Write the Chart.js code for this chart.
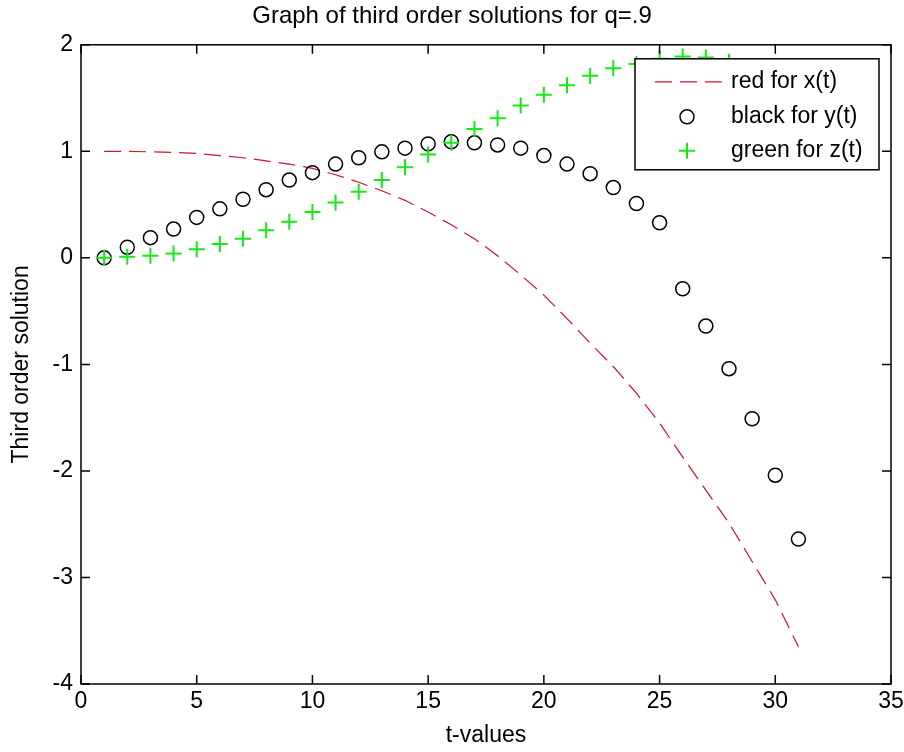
<!DOCTYPE html>
<html>
<head>
<meta charset="utf-8">
<title>Graph of third order solutions for q=.9</title>
<script src="https://cdn.jsdelivr.net/npm/chart.js@4.4.1/dist/chart.umd.min.js"></script>
<style>
  html, body { margin: 0; padding: 0; background: #fff; }
  #wrap { width: 904px; height: 752px; }
</style>
</head>
<body>
<div id="wrap"><canvas id="solChart" width="904" height="752"></canvas></div>
<script>
// values
var tVals = [1, 2, 3, 4, 5, 6, 7, 8, 9, 10, 11, 12, 13, 14, 15, 16,
             17, 18, 19, 20, 21, 22, 23, 24, 25, 26, 27, 28, 29, 30, 31];
var xSol = [1.0, 1.0, 0.995, 0.99, 0.98, 0.96, 0.94, 0.91, 0.88, 0.84, 0.78, 0.71, 0.63, 0.54, 0.43, 0.31,
            0.18, 0.02, -0.16, -0.35, -0.57, -0.80, -1.02, -1.27, -1.55, -1.87, -2.18, -2.49, -2.85, -3.21, -3.65];
var ySol = [0, 0.10, 0.19, 0.27, 0.38, 0.46, 0.55, 0.64, 0.73, 0.80, 0.88, 0.94, 0.995, 1.03, 1.07, 1.09,
            1.08, 1.06, 1.03, 0.96, 0.88, 0.79, 0.66, 0.51, 0.33, -0.29, -0.64, -1.04, -1.51, -2.04, -2.64];
var zSol = [0, 0.01, 0.02, 0.04, 0.08, 0.13, 0.18, 0.26, 0.34, 0.43, 0.52, 0.62, 0.73, 0.85, 0.97, 1.08,
            1.21, 1.31, 1.43, 1.53, 1.62, 1.71, 1.78, 1.82, 1.87, 1.89, 1.88, 1.84, 1.78, 1.70, 1.60];
var xTicks = [0, 5, 10, 15, 20, 25, 30, 35];
var yTicks = [-4, -3, -2, -1, 0, 1, 2];
var seriesLabels = ['red for x(t)', 'black for y(t)', 'green for z(t)'];

var FONT = '"Liberation Sans", Arial, Helvetica, sans-serif';
var RED = 'rgb(212, 18, 42)';
var GREEN = 'rgb(24, 232, 24)';

function toPoints(vals) {
    return tVals.map(function (t, i) { return { x: t, y: vals[i] }; });
}

// white page behind everything
var bgPlugin = {
    id: 'bg',
    beforeDraw: function (chart) {
        var c = chart.ctx;
        c.save();
        c.fillStyle = '#fff';
        c.fillRect(0, 0, chart.width, chart.height);
        c.restore();
    }
};

// matlab style box with inward ticks on all four sides
var boxPlugin = {
    id: 'box',
    afterDatasetsDraw: function (chart) {
        var c = chart.ctx, a = chart.chartArea;
        var sx = chart.scales.x, sy = chart.scales.y;
        var len = 9;
        c.save();
        c.strokeStyle = '#000';
        c.lineWidth = 1.5;
        c.strokeRect(a.left, a.top, a.right - a.left, a.bottom - a.top);
        c.beginPath();
        xTicks.forEach(function (v) {
            var px = sx.getPixelForValue(v);
            c.moveTo(px, a.bottom); c.lineTo(px, a.bottom - len);
            c.moveTo(px, a.top); c.lineTo(px, a.top + len);
        });
        yTicks.forEach(function (v) {
            var py = sy.getPixelForValue(v);
            c.moveTo(a.left, py); c.lineTo(a.left + len, py);
            c.moveTo(a.right, py); c.lineTo(a.right - len, py);
        });
        c.stroke();
        c.restore();
    }
};

// opaque legend box in the upper right, drawn last like matlab does
var legendBoxPlugin = {
    id: 'legendBox',
    afterDraw: function (chart) {
        var c = chart.ctx, a = chart.chartArea;
        var w = 244, h = 111;
        var left = a.right - 256, top = a.top + 14;
        var rows = [top + 23, top + 58, top + 92];
        var sampleX = left + 52;
        c.save();
        c.fillStyle = '#fff';
        c.fillRect(left, top, w, h);
        c.strokeStyle = '#000';
        c.lineWidth = 1.5;
        c.strokeRect(left, top, w, h);

        // red dashed sample
        c.strokeStyle = RED;
        c.lineWidth = 1.2;
        c.setLineDash([17, 8]);
        c.beginPath();
        c.moveTo(left + 20, rows[0]);
        c.lineTo(left + 87, rows[0]);
        c.stroke();
        c.setLineDash([]);

        // black circle sample
        c.strokeStyle = '#000';
        c.lineWidth = 1.5;
        c.beginPath();
        c.arc(sampleX, rows[1], 7, 0, Math.PI * 2);
        c.stroke();

        // green plus sample
        c.strokeStyle = GREEN;
        c.lineWidth = 2;
        c.beginPath();
        c.moveTo(sampleX - 8, rows[2]); c.lineTo(sampleX + 8, rows[2]);
        c.moveTo(sampleX, rows[2] - 8); c.lineTo(sampleX, rows[2] + 8);
        c.stroke();

        c.fillStyle = '#000';
        c.font = '23px ' + FONT;
        c.textBaseline = 'middle';
        c.textAlign = 'left';
        seriesLabels.forEach(function (txt, i) {
            c.fillText(txt, left + 96, rows[i]);
        });
        c.restore();
    }
};

var ctx = document.getElementById('solChart').getContext('2d');
var solChart = new Chart(ctx, {
    type: 'scatter',
    data: {
        datasets: [
            {
                label: seriesLabels[0],
                data: toPoints(xSol),
                showLine: true,
                borderColor: RED,
                borderWidth: 1.2,
                borderDash: [17, 8],
                pointRadius: 0,
                fill: false,
                order: 2
            },
            {
                label: seriesLabels[1],
                data: toPoints(ySol),
                pointStyle: 'circle',
                pointRadius: 7,
                pointBorderWidth: 1.5,
                borderColor: '#000',
                backgroundColor: 'rgba(0,0,0,0)',
                order: 1
            },
            {
                label: seriesLabels[2],
                data: toPoints(zSol),
                pointStyle: 'cross',
                pointRadius: 8,
                pointBorderWidth: 2,
                borderColor: GREEN,
                backgroundColor: GREEN,
                order: 0
            }
        ]
    },
    options: {
        responsive: false,
        animation: false,
        layout: { padding: { top: 0, left: 0, right: 0, bottom: 0 } },
        plugins: {
            legend: { display: false },
            tooltip: { enabled: false },
            title: {
                display: true,
                text: 'Graph of third order solutions for q=.9',
                color: '#000',
                font: { family: FONT, size: 24, weight: 'normal' },
                padding: { top: 2, bottom: 14 }
            }
        },
        scales: {
            x: {
                type: 'linear',
                min: 0,
                max: 35,
                afterFit: function (s) {
                    s.height = 68;
                    s.paddingLeft = 0;
                    s.paddingRight = 13;
                },
                afterBuildTicks: function (s) { s.ticks = xTicks.map(function (v) { return { value: v }; }); },
                grid: { display: false, drawTicks: false },
                border: { display: false },
                ticks: {
                    color: '#000',
                    padding: 4,
                    maxRotation: 0,
                    autoSkip: false,
                    font: { family: FONT, size: 23 }
                },
                title: {
                    display: true,
                    text: 't-values',
                    color: '#000',
                    font: { family: FONT, size: 23 },
                    padding: { top: 0, bottom: 3 }
                }
            },
            y: {
                type: 'linear',
                min: -4,
                max: 2,
                afterFit: function (s) { s.width = 81; },
                afterBuildTicks: function (s) { s.ticks = yTicks.map(function (v) { return { value: v }; }); },
                grid: { display: false, drawTicks: false },
                border: { display: false },
                ticks: {
                    color: '#000',
                    padding: 8,
                    autoSkip: false,
                    font: { family: FONT, size: 23 }
                },
                title: {
                    display: true,
                    text: 'Third order solution',
                    color: '#000',
                    font: { family: FONT, size: 23 },
                    padding: { top: 8, bottom: 0 }
                }
            }
        }
    },
    plugins: [bgPlugin, boxPlugin, legendBoxPlugin]
});
</script>
</body>
</html>
